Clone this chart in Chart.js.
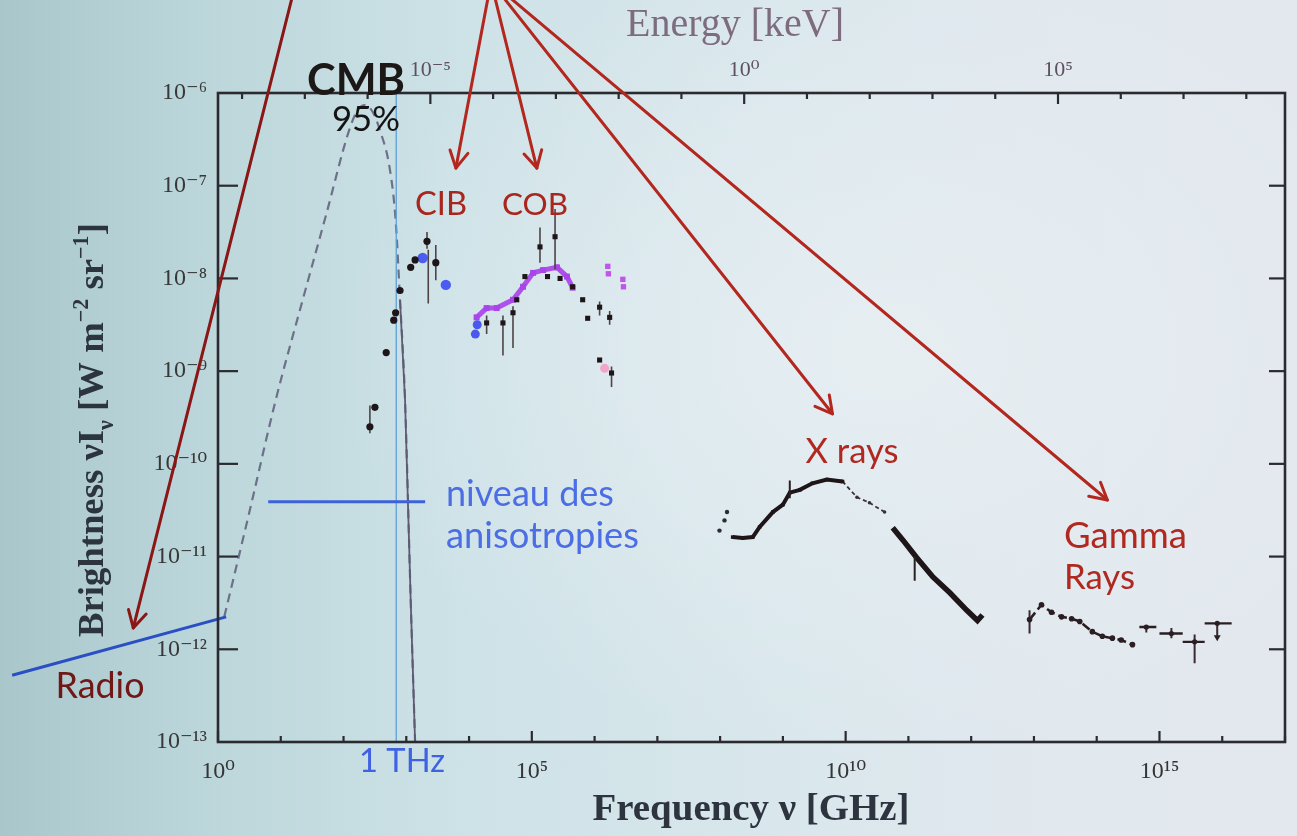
<!DOCTYPE html>
<html>
<head>
<meta charset="utf-8">
<title>Extragalactic background spectrum</title>
<script src="https://cdn.jsdelivr.net/npm/chart.js@4.4.1/dist/chart.umd.min.js"></script>
<style>
html,body{margin:0;padding:0;width:1297px;height:836px;overflow:hidden;}
body{
  background:
    radial-gradient(ellipse 60% 70% at 68% 42%, rgba(232,239,243,0.85) 0%, rgba(232,239,243,0) 70%),
    linear-gradient(90deg, #a9c7cb 0%, #bad5d9 14%, #cde2e7 35%, #d9e7ec 60%, #e1e8ee 82%, #e3e8ee 100%);
}
#wrap{position:relative;width:1297px;height:836px;}
canvas{filter:blur(0.55px);}
</style>
</head>
<body>
<div id="wrap"><canvas id="c" width="1297" height="836"></canvas></div>
<script>
// ---------------- DATA (log10 of frequency in GHz, log10 of brightness in W m^-2 sr^-1) ----------------
const freqTickExp   = [0, 5, 10, 15];
const energyTickExp = [-5, 0, 5];
const brightTickExp = [-13, -12, -11, -10, -9, -8, -7, -6];

// CMB black body (dashed) and its steep tail
const cmbLogNu = [0.10, 0.50, 0.92, 1.35, 1.72, 2.09, 2.22, 2.34, 2.46, 2.58, 2.74, 2.83, 2.90, 2.98, 3.07, 3.14];
const cmbLogB  = [-11.65, -10.52, -9.31, -8.23, -7.32, -6.40, -6.19, -6.13, -6.20, -6.40, -6.83, -7.37, -8.23, -9.31, -11.47, -13.0];
const cmbTailLogNu = [2.90, 2.98, 3.07, 3.14];
const cmbTailLogB  = [-8.23, -9.31, -11.47, -13.0];

// Radio background line, anisotropy level, 1 THz marker
const radioLogNu = [-3.28, 0.13];
const radioLogB  = [-12.28, -11.65];
const anisoLogNu = [0.80, 3.30];
const anisoLogB  = [-10.41, -10.41];
const thzLogNu = [2.84, 2.84];
const thzLogB  = [-13.0, -6.0];

// CIB
const cibLogNu = [2.42, 2.50, 2.68, 2.80, 2.83, 2.90, 3.07, 3.14, 3.33, 3.47];
const cibLogB  = [-9.60, -9.39, -8.80, -8.45, -8.37, -8.13, -7.88, -7.80, -7.60, -7.83];
const cibErrLogNu = [2.42, 3.33, 3.35, 3.47];
const cibErrLo    = [-9.67, -7.68, -8.27, -8.02];
const cibErrHi    = [-9.37, -7.50, -7.69, -7.64];
const cibBlueLogNu = [3.26, 3.63];
const cibBlueLogB  = [-7.78, -8.07];

// COB
const cobPurpleLogNu = [4.12, 4.28, 4.44, 4.70, 4.86, 5.02, 5.18, 5.40, 5.56, 5.65];
const cobPurpleLogB  = [-8.42, -8.32, -8.32, -8.23, -8.09, -7.94, -7.91, -7.88, -7.98, -8.10];
const cobLogNu = [4.28, 4.54, 4.70, 4.76, 4.89, 5.13, 5.25, 5.37, 5.45, 5.65, 5.81, 5.89, 6.08, 6.24, 6.08, 6.27];
const cobLogB  = [-8.48, -8.48, -8.37, -8.23, -7.98, -7.66, -7.98, -7.55, -8.00, -8.09, -8.23, -8.43, -8.31, -8.42, -8.88, -9.02];
const cobErrLogNu = [4.28, 4.54, 4.70, 5.13, 5.37, 6.08, 6.24, 6.27];
const cobErrLo    = [-8.60, -8.83, -8.75, -7.83, -7.90, -8.40, -8.50, -9.17];
const cobErrHi    = [-8.40, -8.40, -8.30, -7.45, -7.25, -8.25, -8.35, -8.95];
const cobBlueLogNu = [4.10, 4.13];
const cobBlueLogB  = [-8.60, -8.50];
const cobMagentaLogNu = [6.21, 6.22, 6.45, 6.46];
const cobMagentaLogB  = [-7.87, -7.95, -8.01, -8.09];
const cobPinkLogNu = [6.16];
const cobPinkLogB  = [-8.97];

// X rays
const xrayDotsLogNu = [7.99, 8.07, 8.11];
const xrayDotsLogB  = [-10.72, -10.61, -10.52];
const xrayALogNu = [8.20, 8.36, 8.52, 8.63, 8.84, 9.00, 9.11, 9.27, 9.47, 9.70, 9.95];
const xrayALogB  = [-10.79, -10.80, -10.79, -10.68, -10.52, -10.44, -10.31, -10.28, -10.21, -10.17, -10.19];
const xrayBLogNu = [9.95, 10.18, 10.38, 10.62];
const xrayBLogB  = [-10.19, -10.36, -10.42, -10.52];
const xrayCLogNu = [10.75, 10.91, 11.13, 11.39, 11.66, 11.93, 12.10, 12.18];
const xrayCLogB  = [-10.69, -10.82, -11.01, -11.22, -11.39, -11.58, -11.69, -11.63];
const xrayErrLogNu = [9.11, 11.10];
const xrayErrLo    = [-10.37, -11.26];
const xrayErrHi    = [-10.18, -11.00];

// Gamma rays
const gammaLogNu = [12.93, 13.12, 13.28, 13.44, 13.60, 13.73, 13.93, 14.09, 14.25, 14.39, 14.57];
const gammaLogB  = [-11.68, -11.52, -11.60, -11.65, -11.67, -11.70, -11.81, -11.86, -11.88, -11.90, -11.95];
const gammaHeLogNu = [14.79, 15.19, 15.56, 15.92];
const gammaHeLogB  = [-11.76, -11.83, -11.92, -11.72];
const gammaBinLo   = [14.68, 15.00, 15.37, 15.72];
const gammaBinHi   = [14.95, 15.37, 15.72, 16.15];
const gammaErrLogNu = [12.93, 14.79, 15.19, 15.56, 15.92];
const gammaErrLo    = [-11.83, -11.82, -11.88, -12.15, -11.86];
const gammaErrHi    = [-11.58, -11.74, -11.77, -11.84, -11.72];
const gammaLimitLogNu = [15.92];
const gammaLimitLogB  = [-11.87];

// Slide annotations: arrows (log10 nu, log10 B)
const arrowList = [
  {from:[1.21, -4.89], to:[-1.35, -11.77], color:'#8a1616'},
  {from:[4.35, -4.80], to:[3.79, -6.81], color:'#b3271e'},
  {from:[4.35, -4.80], to:[5.08, -6.81], color:'#b3271e'},
  {from:[4.35, -4.80], to:[9.79, -9.46], color:'#b3271e'},
  {from:[4.35, -4.80], to:[14.17, -10.39], color:'#b3271e'}
];

// ---------------- helpers ----------------
const P = e => Math.pow(10, e);
const pts = (lx, ly) => lx.map((v, i) => ({x: P(v), y: P(ly[i])}));
const vbars = (lx, lo, hi) => lx.flatMap((v, i) => [{x: P(v), y: P(lo[i])}, {x: P(v), y: P(hi[i])}, {x: P(v), y: null}]);
const hbars = (lo, hi, ly) => ly.flatMap((v, i) => [{x: P(lo[i]), y: P(v)}, {x: P(hi[i]), y: P(v)}, {x: P(hi[i]), y: null}]);
const SUP = {'-':'\u207B','0':'\u2070','1':'\u00B9','2':'\u00B2','3':'\u00B3','4':'\u2074','5':'\u2075','6':'\u2076','7':'\u2077','8':'\u2078','9':'\u2079'};
const powLabel = e => '10' + String(e).split('').map(c => SUP[c]).join('');
const expOf = v => Math.round(Math.log10(v));

const BLACK = '#1d1517';
const SERIF = "'Liberation Serif', 'DejaVu Serif', serif";
const SANS = "Lato, 'Open Sans', sans-serif";
const H_KEV = 4.1357e-9; // keV per GHz

// ---------------- decoration plugin ----------------
function seg(ctx, x1, y1, x2, y2) { ctx.beginPath(); ctx.moveTo(x1, y1); ctx.lineTo(x2, y2); ctx.stroke(); }

function fitText(ctx, text, weight, family, targetW, x, y, align, color) {
  ctx.font = `${weight} 40px ${family}`;
  const size = 40 * targetW / ctx.measureText(text).width;
  ctx.font = `${weight} ${size}px ${family}`;
  ctx.textAlign = align || 'center';
  ctx.textBaseline = 'alphabetic';
  ctx.fillStyle = color;
  ctx.fillText(text, x, y);
}

function drawRich(ctx, pieces, cx, baseline, targetW, weight, family, color) {
  const measure = b => pieces.reduce((acc, p) => { ctx.font = `${weight} ${b * (p.s || 1)}px ${family}`; return acc + ctx.measureText(p.t).width; }, 0);
  const base = 30 * targetW / measure(30);
  let x = cx - targetW / 2;
  ctx.fillStyle = color; ctx.textAlign = 'left'; ctx.textBaseline = 'alphabetic';
  for (const p of pieces) {
    ctx.font = `${weight} ${base * (p.s || 1)}px ${family}`;
    ctx.fillText(p.t, x, baseline + (p.dy || 0) * base);
    x += ctx.measureText(p.t).width;
  }
  return base;
}

const deco = {
  id: 'deco',
  afterDatasetsDraw(chart) {
    const {ctx, chartArea: a, scales} = chart;
    ctx.save();
    ctx.strokeStyle = '#2a2a2f';
    ctx.lineWidth = 2.6;
    ctx.strokeRect(a.left, a.top, a.right - a.left, a.bottom - a.top);
    ctx.lineWidth = 2.2;
    for (let e = 0; e <= 17; e++) {
      const px = scales.x.getPixelForValue(P(e));
      const L = e % 5 === 0 ? 11 : 6;
      seg(ctx, px, a.bottom, px, a.bottom - L);
    }
    for (let e = -8; e <= 8; e++) {
      const px = scales.x2.getPixelForValue(P(e));
      if (px < a.left + 2 || px > a.right - 2) continue;
      const L = e % 5 === 0 ? 11 : 6;
      seg(ctx, px, a.top, px, a.top + L);
    }
    for (const e of brightTickExp) {
      const py = scales.y.getPixelForValue(P(e));
      if (py > a.top + 2 && py < a.bottom - 2) {
        seg(ctx, a.left, py, a.left + 20, py);
        seg(ctx, a.right, py, a.right - 16, py);
      }
    }
    ctx.restore();
  },
  afterDraw(chart) {
    const {ctx, scales} = chart;
    const px = l => scales.x.getPixelForValue(P(l));
    const py = l => scales.y.getPixelForValue(P(l));
    ctx.save();
    // axis titles
    ctx.save();
    ctx.translate(93, 430);
    ctx.rotate(-Math.PI / 2);
    drawRich(ctx, [
      {t: 'Brightness \u03BDI'}, {t: '\u03BD', s: 0.6, dy: 0.28}, {t: ' [W m'}, {t: '\u22122', s: 0.6, dy: -0.42},
      {t: ' sr'}, {t: '\u22121', s: 0.6, dy: -0.42}, {t: ']'}
    ], 0, 10, 414, 'bold', SERIF, '#2c3440');
    ctx.restore();
    fitText(ctx, 'Frequency \u03BD [GHz]', 'bold', SERIF, 317, 751, 820, 'center', '#2d3440');
    fitText(ctx, 'Energy [keV]', 'normal', SERIF, 218, 735, 36, 'center', '#7d6b7e');

    // arrows
    ctx.lineCap = 'round';
    ctx.lineJoin = 'round';
    for (const ar of arrowList) {
      const x1 = px(ar.from[0]), y1 = py(ar.from[1]), x2 = px(ar.to[0]), y2 = py(ar.to[1]);
      ctx.strokeStyle = ar.color;
      ctx.lineWidth = 3;
      seg(ctx, x1, y1, x2, y2);
      const ang = Math.atan2(y2 - y1, x2 - x1);
      const hl = 19, ha = 0.5;
      ctx.beginPath();
      ctx.moveTo(x2 - hl * Math.cos(ang - ha), y2 - hl * Math.sin(ang - ha));
      ctx.lineTo(x2, y2);
      ctx.lineTo(x2 - hl * Math.cos(ang + ha), y2 - hl * Math.sin(ang + ha));
      ctx.stroke();
    }

    // slide labels
    fitText(ctx, 'CMB', 'bold', SANS, 98, 356, 95, 'center', '#1c1818');
    fitText(ctx, '95%', 'normal', SANS, 68, 366, 131, 'center', '#141414');
    fitText(ctx, 'CIB', 'normal', SANS, 52, 441, 215, 'center', '#a8261e');
    fitText(ctx, 'COB', 'normal', SANS, 66, 535, 215, 'center', '#a8261e');
    fitText(ctx, 'X rays', 'normal', SANS, 93, 852, 463, 'center', '#b0281f');
    fitText(ctx, 'Gamma', 'normal', SANS, 123, 1064, 548, 'left', '#b0281f');
    fitText(ctx, 'Rays', 'normal', SANS, 71, 1064, 589, 'left', '#b0281f');
    fitText(ctx, 'Radio', 'normal', SANS, 89, 100, 698, 'center', '#701818');
    fitText(ctx, 'niveau des', 'normal', SANS, 168, 446, 506, 'left', '#4c6ee4');
    fitText(ctx, 'anisotropies', 'normal', SANS, 193, 446, 548, 'left', '#4c6ee4');
    fitText(ctx, '1 THz', 'normal', SANS, 86, 402, 772, 'center', '#3e62e0');
    ctx.restore();
  }
};

// ---------------- chart ----------------
const lineDs = (label, data, color, width, extra) => Object.assign({
  label, data, showLine: true, borderColor: color, borderWidth: width, pointRadius: 0, spanGaps: false, fill: false
}, extra || {});
const ptDs = (label, data, color, radius, style, extra) => Object.assign({
  label, data, showLine: false, pointRadius: radius, pointStyle: style || 'circle',
  pointBackgroundColor: color, pointBorderColor: color, pointBorderWidth: 0
}, extra || {});

const datasets = [
  // top-most first
  ptDs('COB pink', pts(cobPinkLogNu, cobPinkLogB), '#f2a6c8', 4.5),
  ptDs('COB', pts(cobLogNu, cobLogB), BLACK, 3.6, 'rect'),
  lineDs('COB errors', vbars(cobErrLogNu, cobErrLo, cobErrHi), '#4e4448', 1.6),
  ptDs('COB magenta', pts(cobMagentaLogNu, cobMagentaLogB), '#c055ec', 3.8, 'rect'),
  ptDs('COB blue', pts(cobBlueLogNu, cobBlueLogB), '#4a58ee', 4.5),
  lineDs('COB purple', pts(cobPurpleLogNu, cobPurpleLogB), 'rgba(168,64,234,0.9)', 5,
    {pointRadius: 4.2, pointStyle: 'rect', pointBackgroundColor: '#a844ea', pointBorderWidth: 0}),
  ptDs('CIB', pts(cibLogNu, cibLogB), BLACK, 3.6),
  lineDs('CIB errors', vbars(cibErrLogNu, cibErrLo, cibErrHi), '#4e4448', 1.6),
  ptDs('CIB blue', pts(cibBlueLogNu, cibBlueLogB), '#4b5cf0', 5.2),
  lineDs('X-ray errors', vbars(xrayErrLogNu, xrayErrLo, xrayErrHi), '#2a2022', 2),
  ptDs('X-ray dots', pts(xrayDotsLogNu, xrayDotsLogB), '#2a2a3a', 2.2),
  lineDs('X-ray A', pts(xrayALogNu, xrayALogB), BLACK, 4, {pointRadius: 2.5, pointStyle: 'rect', pointBackgroundColor: BLACK, pointBorderWidth: 0}),
  lineDs('X-ray B', pts(xrayBLogNu, xrayBLogB), '#3a3034', 1.8, {borderDash: [4, 3], pointRadius: 1.8, pointBackgroundColor: '#3a3034', pointBorderWidth: 0}),
  lineDs('X-ray C', pts(xrayCLogNu, xrayCLogB), BLACK, 5.5),
  lineDs('Gamma', pts(gammaLogNu, gammaLogB), '#2a1e22', 2.6, {borderDash: [9, 4], pointRadius: 2.8, pointBackgroundColor: '#2a1e22', pointBorderWidth: 0}),
  ptDs('Gamma HE', pts(gammaHeLogNu, gammaHeLogB), '#2a1e22', 2.6),
  lineDs('Gamma bins', hbars(gammaBinLo, gammaBinHi, gammaHeLogB), '#2a1e22', 2.4),
  lineDs('Gamma errors', vbars(gammaErrLogNu, gammaErrLo, gammaErrHi), '#3a2a30', 2),
  ptDs('Gamma limit', pts(gammaLimitLogNu, gammaLimitLogB), '#2a1e22', 4, 'triangle', {rotation: 180}),
  lineDs('anisotropies', pts(anisoLogNu, anisoLogB), '#3d62d8', 3),
  lineDs('Radio', pts(radioLogNu, radioLogB), '#2a4fc4', 3, {clip: false}),
  lineDs('1 THz', pts(thzLogNu, thzLogB), '#5d9fd6', 1.3),
  lineDs('CMB tail', pts(cmbTailLogNu, cmbTailLogB), '#5e5a72', 1.8),
  lineDs('CMB', pts(cmbLogNu, cmbLogB), '#6c7088', 2.2, {borderDash: [9, 6], cubicInterpolationMode: 'monotone'})
];

new Chart(document.getElementById('c'), {
  type: 'scatter',
  data: {datasets},
  options: {
    responsive: false,
    animation: false,
    devicePixelRatio: 1,
    layout: {padding: {left: 0, right: 12, top: 0, bottom: 0}},
    plugins: {legend: {display: false}, tooltip: {enabled: false}},
    scales: {
      x: {
        type: 'logarithmic', position: 'bottom', min: 1, max: 1e17,
        grid: {display: false, drawTicks: false}, border: {display: false},
        afterFit: s => { s.height = 94; },
        afterBuildTicks: s => { s.ticks = freqTickExp.map(e => ({value: P(e)})); },
        ticks: {autoSkip: false, maxRotation: 0, minRotation: 0, padding: 15, color: '#353535',
          font: {family: SERIF, size: 24}, callback: v => powLabel(expOf(v))}
      },
      x2: {
        type: 'logarithmic', position: 'top', min: H_KEV, max: H_KEV * 1e17,
        grid: {display: false, drawTicks: false}, border: {display: false},
        afterFit: s => { s.height = 93; },
        afterBuildTicks: s => { s.ticks = energyTickExp.map(e => ({value: P(e)})); },
        ticks: {autoSkip: false, maxRotation: 0, minRotation: 0, padding: 10, color: '#5e5062',
          font: {family: SERIF, size: 22}, callback: v => powLabel(expOf(v))}
      },
      y: {
        type: 'logarithmic', position: 'left', min: 1e-13, max: 1e-6,
        grid: {display: false, drawTicks: false}, border: {display: false},
        afterFit: s => { s.width = 218; },
        afterBuildTicks: s => { s.ticks = brightTickExp.map(e => ({value: P(e)})); },
        ticks: {autoSkip: false, padding: 11, color: '#383838',
          font: {family: SERIF, size: 24}, callback: v => powLabel(expOf(v))}
      }
    }
  },
  plugins: [deco]
});
</script>
</body>
</html>
